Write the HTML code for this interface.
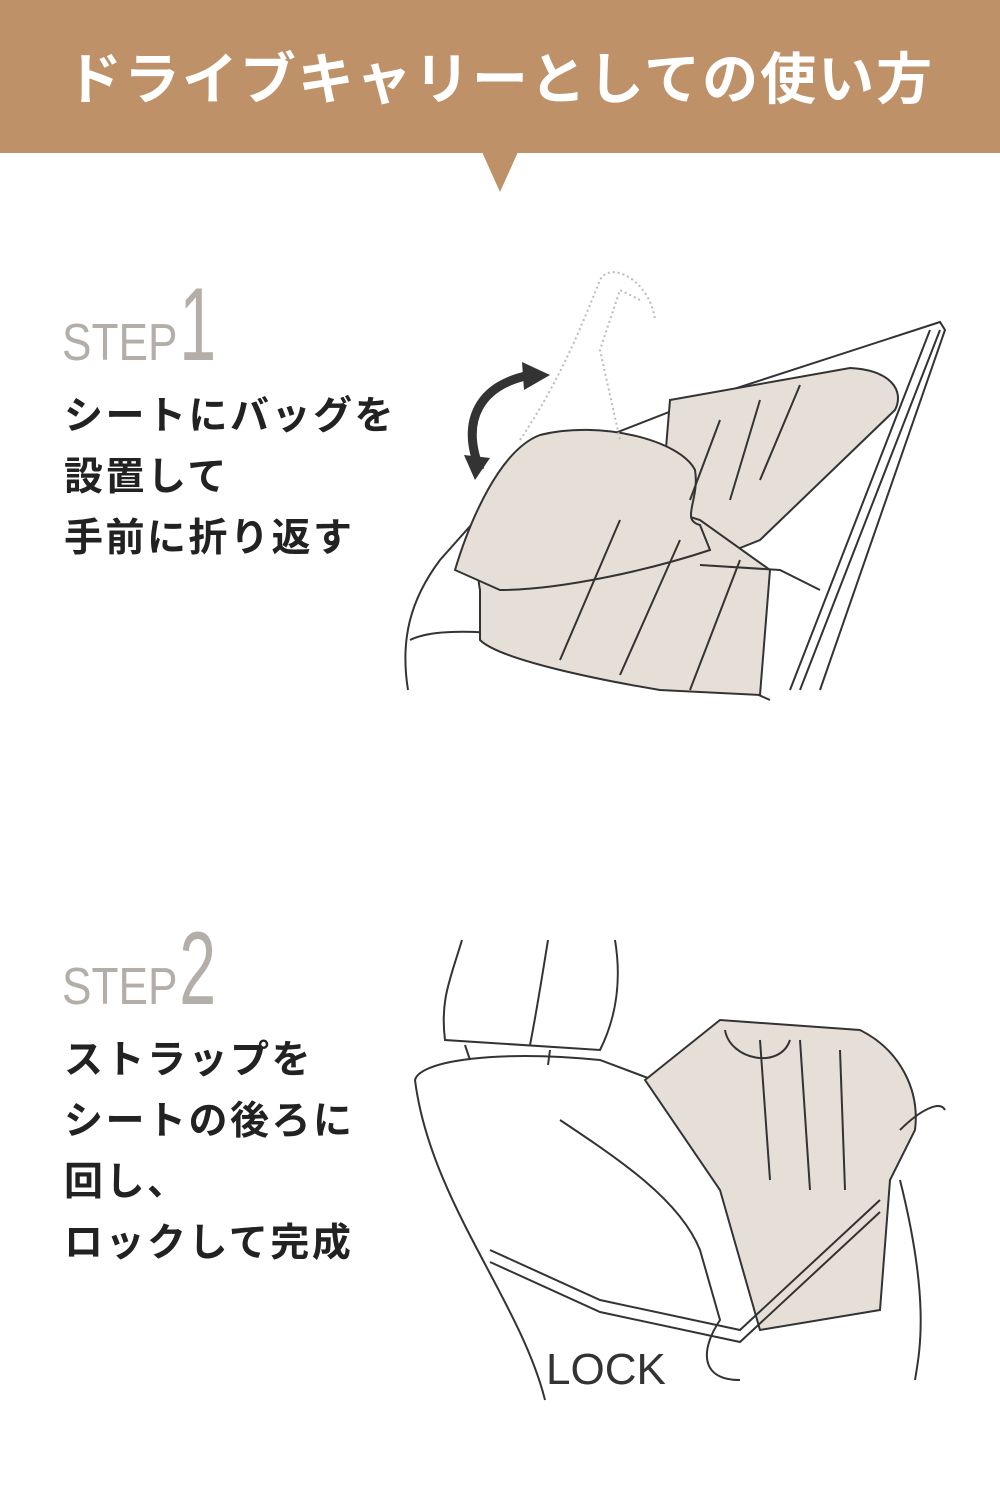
<!DOCTYPE html>
<html><head><meta charset="utf-8"><style>
body{margin:0;width:1000px;height:1501px;background:#fff;position:relative;overflow:hidden;font-family:"Liberation Sans","Noto Sans CJK JP",sans-serif}
.hd{position:absolute;left:0;top:0;width:1000px;height:153px;background:#bf9169}
.tri{position:absolute;left:482px;top:152px;width:0;height:0;border-left:18px solid transparent;border-right:18px solid transparent;border-top:40px solid #bf9169}
.title{position:absolute;left:0;top:44px;width:1000px;text-align:center;color:#fff;font-size:56px;font-weight:bold;letter-spacing:2px;line-height:72px}
.step{position:absolute;color:#b3aea8;font-family:"Liberation Sans",sans-serif;transform-origin:0 0;transform:scaleX(0.85);white-space:nowrap}
.step .s{font-size:52px;letter-spacing:0px}
.step .n{font-size:104px;margin-left:2px;display:inline-block;transform:scaleX(0.75);transform-origin:0 0}
.txt{position:absolute;left:64px;font-size:39px;font-weight:bold;color:#222;line-height:61px;letter-spacing:2.5px}
</style></head><body>
<div class="hd"></div><div class="tri"></div>
<div class="title">ドライブキャリーとしての使い方</div>

<div class="step" style="left:62px;top:266px"><span class="s">STEP</span><span class="n">1</span></div>
<div class="txt" style="top:386px">シートにバッグを<br>設置して<br>手前に折り返す</div>

<div class="step" style="left:62px;top:910px"><span class="s">STEP</span><span class="n">2</span></div>
<div class="txt" style="top:1030px">ストラップを<br>シートの後ろに<br>回し、<br>ロックして完成</div>

<svg style="position:absolute;left:0;top:0" width="1000" height="1501">
<g fill="none" stroke="#333" stroke-width="2">
<path d="M408 690 C400 640 410 600 440 560 L520 470 L700 400 L940 322 L945 330 L820 690"/>
<path d="M410 640 C450 620 560 640 680 660 L770 700"/>
<path d="M790 690 L930 330 M800 690 L940 330"/>
<path fill="#e6dfd8" d="M670 400 L850 368 C890 370 905 390 895 410 L760 540 L710 560 L660 520 Z"/>
<path fill="#e6dfd8" d="M480 590 C470 540 500 480 540 470 L700 520 L770 570 L760 695 L660 690 C600 680 500 660 480 640 Z"/>
<path fill="#e6dfd8" d="M455 570 C470 520 500 450 540 435 C600 420 680 440 695 470 C700 500 680 520 700 525 L710 550 C650 570 560 590 500 590 Z"/>
<path d="M560 660 L620 520 M620 675 L680 540 M690 690 L740 560 M720 420 L690 500 M760 400 L730 500 M800 385 L760 480"/>
<path d="M700 565 L780 570 L820 590"/>
</g>
<g fill="none" stroke="#bbb" stroke-width="2" stroke-dasharray="2 3">
<path d="M520 440 C560 380 580 330 600 280 C610 260 650 280 655 320 M640 300 L620 290 L600 350 L620 440"/>
</g>
<path d="M480 470 C460 420 480 385 530 375" fill="none" stroke="#333" stroke-width="9"/>
<polygon points="550,375 522,362 524,390" fill="#333"/>
<polygon points="475,480 464,455 490,458" fill="#333"/>
<g fill="none" stroke="#333" stroke-width="2">
<path d="M462 940 C450 980 440 1000 445 1040 L600 1050 C620 1010 620 970 615 940"/>
<path d="M548 940 C540 990 535 1020 530 1045"/>
<path d="M465 1045 L470 1060 M550 1050 L548 1065"/>
<path d="M545 1400 C520 1300 430 1200 415 1080 C420 1060 500 1050 600 1060 L680 1090"/>
<path fill="#e6dfd8" d="M645 1080 L720 1020 L860 1030 C900 1050 920 1090 915 1130 L890 1180 L880 1310 L760 1330 L720 1190 Z"/>
<path d="M725 1030 C730 1060 780 1070 790 1040 M760 1040 L770 1180 M800 1040 L810 1190 M840 1050 L845 1190"/>
<path d="M560 1120 C620 1160 680 1200 700 1250 L720 1320 C700 1350 700 1380 740 1380"/>
<path d="M490 1250 L600 1300 L740 1330 L880 1200 M490 1262 L600 1312 L740 1342 L880 1212"/>
<path d="M900 1130 C920 1110 940 1100 945 1110 M900 1180 C930 1300 920 1350 915 1380"/>
</g>
<text x="546" y="1384" font-family="Liberation Sans,sans-serif" font-size="44" fill="#333">LOCK</text>
</svg>
</body></html>
